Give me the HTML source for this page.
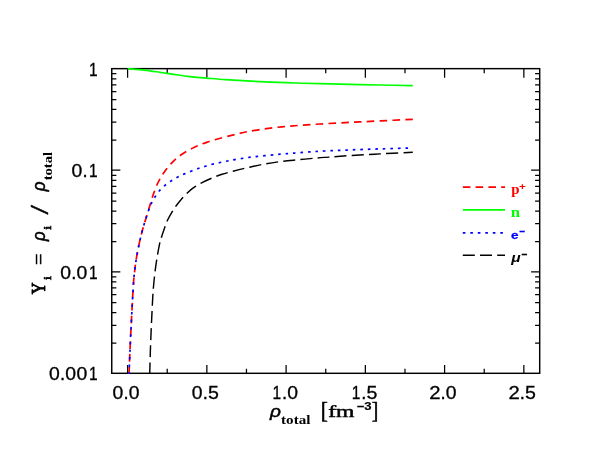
<!DOCTYPE html>
<html><head><meta charset="utf-8"><title>plot</title>
<style>
html,body{margin:0;padding:0;background:#fff;}
svg{display:block;will-change:transform;}
text{font-family:"Liberation Serif",serif;fill:#000;}
.tk{font-family:"Liberation Sans",sans-serif;font-size:18.0px;stroke:#000;stroke-width:0.3px;}
</style></head>
<body>
<svg width="598" height="462" viewBox="0 0 598 462">
<rect width="598" height="462" fill="#fff"/>
<rect x="111.75" y="68.65" width="427.95" height="304.65" fill="none" stroke="#000" stroke-width="1.45"/>
<path d="M127.60 373.30v-8.30M127.60 68.65v9.00M167.22 373.30v-4.60M167.22 68.65v4.60M206.85 373.30v-8.30M206.85 68.65v9.00M246.47 373.30v-4.60M246.47 68.65v4.60M286.10 373.30v-8.30M286.10 68.65v9.00M325.73 373.30v-4.60M325.73 68.65v4.60M365.35 373.30v-8.30M365.35 68.65v9.00M404.98 373.30v-4.60M404.98 68.65v4.60M444.60 373.30v-8.30M444.60 68.65v9.00M484.23 373.30v-4.60M484.23 68.65v4.60M523.85 373.30v-8.30M523.85 68.65v9.00M111.75 140.03h4.6M539.70 140.03h-4.6M111.75 122.15h4.6M539.70 122.15h-4.6M111.75 109.46h4.6M539.70 109.46h-4.6M111.75 99.62h4.6M539.70 99.62h-4.6M111.75 91.58h4.6M539.70 91.58h-4.6M111.75 84.78h4.6M539.70 84.78h-4.6M111.75 78.89h4.6M539.70 78.89h-4.6M111.75 73.70h4.6M539.70 73.70h-4.6M111.75 170.20h8.6M539.70 170.20h-8.6M111.75 241.58h4.6M539.70 241.58h-4.6M111.75 223.70h4.6M539.70 223.70h-4.6M111.75 211.01h4.6M539.70 211.01h-4.6M111.75 201.17h4.6M539.70 201.17h-4.6M111.75 193.13h4.6M539.70 193.13h-4.6M111.75 186.33h4.6M539.70 186.33h-4.6M111.75 180.44h4.6M539.70 180.44h-4.6M111.75 175.25h4.6M539.70 175.25h-4.6M111.75 271.75h8.6M539.70 271.75h-8.6M111.75 343.13h4.6M539.70 343.13h-4.6M111.75 325.25h4.6M539.70 325.25h-4.6M111.75 312.56h4.6M539.70 312.56h-4.6M111.75 302.72h4.6M539.70 302.72h-4.6M111.75 294.68h4.6M539.70 294.68h-4.6M111.75 287.88h4.6M539.70 287.88h-4.6M111.75 281.99h4.6M539.70 281.99h-4.6M111.75 276.80h4.6M539.70 276.80h-4.6" fill="none" stroke="#000" stroke-width="1.25"/>
<clipPath id="c"><rect x="111.75" y="67.65" width="427.95" height="306.25"/></clipPath>
<g clip-path="url(#c)" fill="none" stroke-width="1.7">
<path d="M127.60 68.80C129.67 68.93 136.27 69.27 140.00 69.60C143.73 69.93 146.67 70.35 150.00 70.80C153.33 71.25 157.15 71.88 160.00 72.30C162.85 72.72 163.77 72.86 167.10 73.35C170.43 73.84 176.57 74.76 180.00 75.25C183.43 75.74 184.87 75.96 187.70 76.30C190.53 76.64 193.87 77.00 197.00 77.30C200.13 77.60 201.78 77.72 206.50 78.10C211.22 78.48 218.60 79.13 225.30 79.60C232.00 80.07 239.25 80.48 246.70 80.90C254.15 81.32 261.95 81.75 270.00 82.10C278.05 82.45 286.67 82.73 295.00 83.00C303.33 83.27 310.83 83.47 320.00 83.70C329.17 83.93 340.00 84.18 350.00 84.40C360.00 84.62 369.53 84.80 380.00 85.00C390.47 85.20 407.33 85.50 412.80 85.60" stroke="#00ff00"/>
<path d="M129.00 374.50C129.17 370.42 129.63 358.25 130.00 350.00C130.37 341.75 130.80 333.00 131.20 325.00C131.60 317.00 132.08 307.88 132.40 302.00C132.72 296.12 132.85 293.70 133.10 289.70C133.35 285.70 133.50 282.23 133.90 278.00C134.30 273.77 134.92 268.53 135.50 264.30C136.08 260.07 136.68 256.50 137.40 252.60C138.12 248.70 138.92 244.80 139.80 240.90C140.68 237.00 141.63 233.10 142.70 229.20C143.77 225.30 144.95 221.60 146.20 217.50C147.45 213.40 149.07 208.28 150.20 204.60C151.33 200.92 151.77 198.92 153.00 195.40C154.23 191.88 155.77 187.33 157.60 183.50C159.43 179.67 161.55 175.93 164.00 172.40C166.45 168.87 169.23 165.37 172.30 162.30C175.37 159.23 178.72 156.52 182.40 154.00C186.08 151.48 190.25 149.18 194.40 147.20C198.55 145.22 202.70 143.67 207.30 142.10C211.90 140.53 217.25 139.10 222.00 137.80C226.75 136.50 231.58 135.32 235.80 134.30C240.02 133.28 242.50 132.60 247.30 131.70C252.10 130.80 258.83 129.72 264.60 128.90C270.37 128.08 276.13 127.38 281.90 126.80C287.67 126.22 292.85 125.87 299.20 125.40C305.55 124.93 311.53 124.50 320.00 124.00C328.47 123.50 340.00 122.92 350.00 122.40C360.00 121.88 369.53 121.42 380.00 120.90C390.47 120.38 407.33 119.57 412.80 119.30" stroke="#ff0000" stroke-dasharray="7.6 5.2"/>
<path d="M129.00 374.50C129.17 370.42 129.63 358.25 130.00 350.00C130.37 341.75 130.80 333.00 131.20 325.00C131.60 317.00 132.08 307.88 132.40 302.00C132.72 296.12 132.85 293.70 133.10 289.70C133.35 285.70 133.50 282.23 133.90 278.00C134.30 273.77 134.92 268.53 135.50 264.30C136.08 260.07 136.68 256.50 137.40 252.60C138.12 248.70 138.92 244.80 139.80 240.90C140.68 237.00 141.63 233.10 142.70 229.20C143.77 225.30 144.98 221.28 146.20 217.50C147.42 213.72 149.08 208.95 150.00 206.50C150.92 204.05 150.90 204.33 151.70 202.80C152.50 201.27 153.52 199.30 154.80 197.30C156.08 195.30 157.70 192.80 159.40 190.80C161.10 188.80 163.00 186.98 165.00 185.30C167.00 183.62 169.27 182.08 171.40 180.70C173.53 179.32 175.65 178.13 177.80 177.00C179.95 175.87 182.00 174.90 184.30 173.90C186.60 172.90 189.15 171.95 191.60 171.00C194.05 170.05 196.70 169.00 199.00 168.20C201.30 167.40 203.10 166.88 205.40 166.20C207.70 165.52 210.35 164.72 212.80 164.10C215.25 163.48 217.65 163.02 220.10 162.50C222.55 161.98 225.03 161.48 227.50 161.00C229.97 160.52 231.32 160.20 234.90 159.60C238.48 159.00 244.05 158.05 249.00 157.40C253.95 156.75 259.40 156.23 264.60 155.70C269.80 155.17 275.30 154.63 280.20 154.20C285.10 153.77 289.10 153.48 294.00 153.10C298.90 152.72 304.55 152.25 309.60 151.90C314.65 151.55 317.57 151.33 324.30 151.00C331.03 150.67 340.72 150.25 350.00 149.90C359.28 149.55 369.53 149.23 380.00 148.90C390.47 148.57 407.33 148.07 412.80 147.90" stroke="#0000ff" stroke-dasharray="2.6 4.9"/>
<path d="M149.70 374.50C149.82 370.42 150.12 358.25 150.40 350.00C150.68 341.75 151.03 333.33 151.40 325.00C151.77 316.67 152.27 306.22 152.60 300.00C152.93 293.78 153.00 292.35 153.40 287.70C153.80 283.05 154.42 276.97 155.00 272.10C155.58 267.23 156.17 263.05 156.90 258.50C157.63 253.95 158.67 248.25 159.40 244.80C160.13 241.35 160.48 240.48 161.30 237.80C162.12 235.12 163.27 231.62 164.30 228.70C165.33 225.78 166.20 223.12 167.50 220.30C168.80 217.48 170.68 214.18 172.10 211.80C173.52 209.42 174.48 208.05 176.00 206.00C177.52 203.95 179.37 201.63 181.20 199.50C183.03 197.37 184.82 195.25 187.00 193.20C189.18 191.15 191.63 189.03 194.30 187.20C196.97 185.37 199.92 183.78 203.00 182.20C206.08 180.62 209.63 179.02 212.80 177.70C215.97 176.38 218.93 175.30 222.00 174.30C225.07 173.30 228.20 172.52 231.20 171.70C234.20 170.88 237.32 170.07 240.00 169.40C242.68 168.73 243.20 168.60 247.30 167.70C251.40 166.80 258.83 165.05 264.60 164.00C270.37 162.95 276.13 162.12 281.90 161.40C287.67 160.68 293.43 160.27 299.20 159.70C304.97 159.13 311.60 158.43 316.50 158.00C321.40 157.57 323.02 157.50 328.60 157.10C334.18 156.70 341.43 156.13 350.00 155.60C358.57 155.07 369.53 154.45 380.00 153.90C390.47 153.35 407.33 152.57 412.80 152.30" stroke="#000" stroke-width="1.45" stroke-dasharray="12.0 5.2"/>
</g>
<g fill="none" stroke-width="1.7">
<path d="M462.8 187.1H505" stroke="#ff0000" stroke-dasharray="7.6 5.2"/>
<path d="M462.8 209.8H505" stroke="#00ff00"/>
<path d="M462.8 232.9H505" stroke="#0000ff" stroke-dasharray="2.6 4.9"/>
<path d="M462.8 255.3H505" stroke="#000" stroke-width="1.45" stroke-dasharray="12.0 5.2"/>
</g>
<text transform="translate(112.57 398.60) scale(1.076 1)" class="tk">0</text><text transform="translate(123.54 398.60) scale(1.026 1)" class="tk">.</text><text transform="translate(128.87 398.60) scale(1.076 1)" class="tk">0</text>
<text transform="translate(191.82 398.60) scale(1.076 1)" class="tk">0</text><text transform="translate(202.79 398.60) scale(1.026 1)" class="tk">.</text><text transform="translate(208.07 398.60) scale(1.088 1)" class="tk">5</text>
<text transform="translate(272.44 398.60) scale(0.861 1)" class="tk">1</text><text transform="translate(282.04 398.60) scale(1.026 1)" class="tk">.</text><text transform="translate(287.37 398.60) scale(1.076 1)" class="tk">0</text>
<text transform="translate(351.69 398.60) scale(0.861 1)" class="tk">1</text><text transform="translate(361.29 398.60) scale(1.026 1)" class="tk">.</text><text transform="translate(366.57 398.60) scale(1.088 1)" class="tk">5</text>
<text transform="translate(429.28 398.60) scale(1.129 1)" class="tk">2</text><text transform="translate(440.54 398.60) scale(1.026 1)" class="tk">.</text><text transform="translate(445.87 398.60) scale(1.076 1)" class="tk">0</text>
<text transform="translate(508.53 398.60) scale(1.129 1)" class="tk">2</text><text transform="translate(519.79 398.60) scale(1.026 1)" class="tk">.</text><text transform="translate(525.07 398.60) scale(1.088 1)" class="tk">5</text>
<text transform="translate(89.09 75.75) scale(0.861 1)" class="tk">1</text>
<text transform="translate(71.42 177.30) scale(1.076 1)" class="tk">0</text><text transform="translate(82.39 177.30) scale(1.026 1)" class="tk">.</text><text transform="translate(89.09 177.30) scale(0.861 1)" class="tk">1</text>
<text transform="translate(60.22 278.85) scale(1.076 1)" class="tk">0</text><text transform="translate(71.19 278.85) scale(1.026 1)" class="tk">.</text><text transform="translate(76.52 278.85) scale(1.076 1)" class="tk">0</text><text transform="translate(89.09 278.85) scale(0.861 1)" class="tk">1</text>
<text transform="translate(49.02 380.40) scale(1.076 1)" class="tk">0</text><text transform="translate(59.99 380.40) scale(1.026 1)" class="tk">.</text><text transform="translate(65.32 380.40) scale(1.076 1)" class="tk">0</text><text transform="translate(76.52 380.40) scale(1.076 1)" class="tk">0</text><text transform="translate(89.09 380.40) scale(0.861 1)" class="tk">1</text>
<text transform="translate(511.21 193.58) scale(1.045 1)" style='font-family:"Liberation Serif",serif;font-weight:bold;font-style:normal;font-size:14.21px;fill:#ff0000;'>p</text>
<text transform="translate(519.03 189.84) scale(1.216 1)" style='font-family:"Liberation Sans",sans-serif;font-weight:bold;font-style:normal;font-size:9.61px;fill:#ff0000;'>+</text>
<text transform="translate(510.68 216.70) scale(1.145 1)" style='font-family:"Liberation Serif",serif;font-weight:bold;font-style:normal;font-size:14.68px;fill:#00ff00;'>n</text>
<text transform="translate(511.04 239.13) scale(1.164 1)" style='font-family:"Liberation Sans",sans-serif;font-weight:bold;font-style:normal;font-size:11.69px;fill:#0000ff;stroke:#0000ff;stroke-width:0.3px;stroke-linejoin:round;'>e</text>
<text transform="translate(518.95 235.39) scale(0.962 1)" style='font-family:"Liberation Sans",sans-serif;font-weight:bold;font-style:normal;font-size:10.50px;fill:#0000ff;stroke:#0000ff;stroke-width:0.3px;stroke-linejoin:round;'>−</text>
<text transform="translate(511.29 262.17) scale(1.229 1)" style='font-family:"Liberation Sans",sans-serif;font-weight:bold;font-style:italic;font-size:12.65px;fill:#000;'>μ</text>
<text transform="translate(521.25 258.14) scale(0.962 1)" style='font-family:"Liberation Sans",sans-serif;font-weight:bold;font-style:normal;font-size:10.50px;fill:#000;stroke:#000;stroke-width:0.3px;stroke-linejoin:round;'>−</text>
<text transform="translate(269.93 417.06) scale(1.099 1)" style='font-family:"Liberation Sans",sans-serif;font-weight:normal;font-style:italic;font-size:17.32px;fill:#000;stroke:#000;stroke-width:0.5px;stroke-linejoin:round;'>ρ</text>
<text transform="translate(281.07 424.08) scale(1.225 1)" style='font-family:"Liberation Serif",serif;font-weight:bold;font-style:normal;font-size:12.34px;fill:#000;'>total</text>
<text transform="translate(320.75 417.57) scale(0.952 1)" style='font-family:"Liberation Serif",serif;font-weight:normal;font-style:normal;font-size:22.41px;fill:#000;stroke:#000;stroke-width:0.6px;stroke-linejoin:round;'>[</text>
<text transform="translate(328.24 416.65) scale(1.345 1)" style='font-family:"Liberation Serif",serif;font-weight:normal;font-style:normal;font-size:17.59px;fill:#000;stroke:#000;stroke-width:0.5px;stroke-linejoin:round;'>fm</text>
<text transform="translate(356.48 409.77) scale(1.258 1)" style='font-family:"Liberation Sans",sans-serif;font-weight:bold;font-style:normal;font-size:10.42px;fill:#000;stroke:#000;stroke-width:0.2px;stroke-linejoin:round;'>−3</text>
<text transform="translate(371.72 417.57) scale(0.873 1)" style='font-family:"Liberation Serif",serif;font-weight:normal;font-style:normal;font-size:22.41px;fill:#000;stroke:#000;stroke-width:0.6px;stroke-linejoin:round;'>]</text>
<g transform="rotate(-90)">
<text transform="translate(-294.21 44.55) scale(0.827 1)" style='font-family:"Liberation Serif",serif;font-weight:normal;font-style:normal;font-size:19.69px;fill:#000;stroke:#000;stroke-width:0.9px;stroke-linejoin:round;'>Y</text>
<text transform="translate(-279.94 51.45) scale(1.328 1)" style='font-family:"Liberation Serif",serif;font-weight:normal;font-style:normal;font-size:10.98px;fill:#000;stroke:#000;stroke-width:0.7px;stroke-linejoin:round;'>i</text>
<text transform="translate(-265.07 45.73) scale(1.001 1)" style='font-family:"Liberation Serif",serif;font-weight:normal;font-style:normal;font-size:20.40px;fill:#000;stroke:#000;stroke-width:0.4px;stroke-linejoin:round;'>=</text>
<text transform="translate(-241.03 44.63) scale(0.959 1)" style='font-family:"Liberation Sans",sans-serif;font-weight:normal;font-style:italic;font-size:17.45px;fill:#000;stroke:#000;stroke-width:0.5px;stroke-linejoin:round;'>ρ</text>
<text transform="translate(-229.74 51.45) scale(1.328 1)" style='font-family:"Liberation Serif",serif;font-weight:normal;font-style:normal;font-size:10.98px;fill:#000;stroke:#000;stroke-width:0.7px;stroke-linejoin:round;'>i</text>
<text transform="translate(-214.50 47.66) scale(1.395 1)" style='font-family:"Liberation Serif",serif;font-weight:normal;font-style:normal;font-size:24.33px;fill:#000;stroke:#000;stroke-width:0.4px;stroke-linejoin:round;'>/</text>
<text transform="translate(-191.33 44.87) scale(0.955 1)" style='font-family:"Liberation Sans",sans-serif;font-weight:normal;font-style:italic;font-size:17.72px;fill:#000;stroke:#000;stroke-width:0.5px;stroke-linejoin:round;'>ρ</text>
<text transform="translate(-180.32 51.97) scale(1.122 1)" style='font-family:"Liberation Serif",serif;font-weight:bold;font-style:normal;font-size:13.05px;fill:#000;'>total</text>
</g>
</svg>
</body></html>
